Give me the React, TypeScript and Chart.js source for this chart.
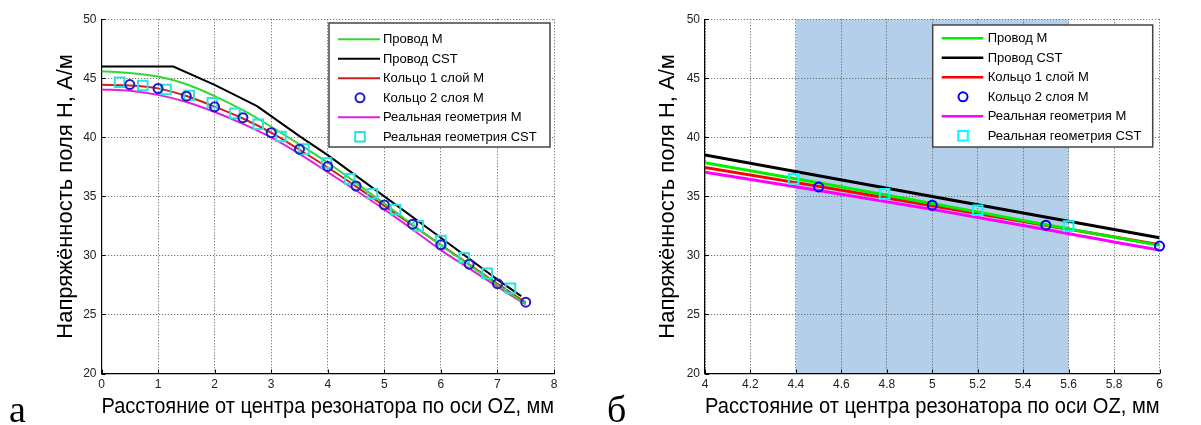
import React, { useEffect, useRef } from 'react';
import { Chart, registerables } from 'chart.js';

Chart.register(...registerables);

// ---------- data ----------
const seriesLabels = [
  'Провод M',
  'Провод CST',
  'Кольцо 1 слой M',
  'Кольцо 2 слоя M',
  'Реальная геометрия M',
  'Реальная геометрия CST',
];

const modelX = [0, 0.5, 1, 1.5, 2, 2.5, 3, 3.5, 4, 4.5, 5, 5.5, 6, 6.5, 7, 7.5];
const wireM = [45.6, 45.45, 45.15, 44.5, 43.5, 42.3, 40.9, 39.4, 37.85, 36.15, 34.4, 32.6, 30.85, 29.2, 27.5, 25.9];
const ring1M = [44.45, 44.4, 44.15, 43.5, 42.6, 41.6, 40.4, 38.95, 37.45, 35.85, 34.2, 32.55, 30.9, 29.25, 27.6, 26.0];
const realM = [44.05, 43.95, 43.6, 43.0, 42.15, 41.15, 40.0, 38.6, 37.05, 35.5, 33.9, 32.2, 30.45, 28.9, 27.35, 25.85];

const wireCstX = [0, 1.27, 2.0, 2.75, 3.5, 4.0, 5.0, 6.0, 7.0, 7.42];
const wireCstY = [46.0, 46.0, 44.45, 42.65, 40.1, 38.5, 35.0, 31.5, 27.95, 26.55];

// panel а markers
const ring2X = [0.5, 1, 1.5, 2, 2.5, 3, 3.5, 4, 4.5, 5, 5.5, 6, 6.5, 7, 7.5];
const ring2Y = [44.47, 44.14, 43.49, 42.59, 41.67, 40.4, 39.0, 37.54, 35.88, 34.28, 32.65, 30.9, 29.26, 27.61, 26.04];
const realCstX = [0.32, 0.73, 1.14, 1.55, 1.96, 2.36, 2.77, 3.17, 3.58, 3.98, 4.39, 4.79, 5.2, 5.6, 6.0, 6.41, 6.82, 7.23];
const realCstY = [44.67, 44.39, 44.05, 43.55, 42.93, 42.03, 41.11, 40.07, 39.0, 37.83, 36.48, 35.23, 33.88, 32.5, 31.25, 29.8, 28.48, 27.21];

// panel б markers
const ring2XZoom = [4.5, 5, 5.5, 6];
const ring2YZoom = [35.8, 34.25, 32.56, 30.79];
const realCstXZoom = [4.39, 4.79, 5.2, 5.6];
const realCstYZoom = [36.48, 35.21, 33.83, 32.48];

const yRange = [20, 50];
const yStep = 5;
const leftXRange = [0, 8];
const leftXStep = 1;
const rightXRange = [4, 6];
const rightXStep = 0.2;
const bandRange = [4.4, 5.6];

const yTitle = 'Напряжённость поля Н, А/м';
const xTitle = 'Расстояние от центра резонатора по оси OZ, мм';
const panelLetters = ['а', 'б'];

// ---------- helpers ----------
const zip = (xs: number[], ys: number[]) => xs.map((x, i) => ({ x, y: ys[i] }));

type Palette = { green: string; black: string; red: string; blue: string; magenta: string; cyan: string };

function buildDatasets(p: Palette, lw: number, ring2: any[], realCst: any[]) {
  const line = (label: string, data: any[], color: string, smooth: boolean) => ({
    label,
    data,
    showLine: true,
    borderColor: color,
    backgroundColor: color,
    borderWidth: lw,
    pointRadius: 0,
    cubicInterpolationMode: smooth ? 'monotone' : 'default',
    tension: 0,
    order: 2,
    clip: 0,
  });
  const marks = (label: string, data: any[], color: string, style: string, r: number) => ({
    label,
    data,
    showLine: false,
    borderColor: color,
    backgroundColor: 'rgba(0,0,0,0)',
    pointBorderWidth: 2,
    pointRadius: r,
    pointStyle: style,
    order: 1,
    clip: 8,
  });
  return [
    line(seriesLabels[0], zip(modelX, wireM), p.green, true),
    line(seriesLabels[1], zip(wireCstX, wireCstY), p.black, false),
    line(seriesLabels[2], zip(modelX, ring1M), p.red, true),
    marks(seriesLabels[3], ring2, p.blue, 'circle', 4.5),
    line(seriesLabels[4], zip(modelX, realM), p.magenta, true),
    marks(seriesLabels[5], realCst, p.cyan, 'rect', 6.8),
  ];
}

const bandPlugin = {
  id: 'band',
  beforeDraw(chart: any, _a: any, opts: any) {
    if (!opts || !opts.range) return;
    const { ctx, chartArea, scales } = chart;
    const x0 = scales.x.getPixelForValue(opts.range[0]);
    const x1 = scales.x.getPixelForValue(opts.range[1]);
    ctx.save();
    ctx.fillStyle = opts.color;
    ctx.fillRect(x0, chartArea.top, x1 - x0, chartArea.bottom - chartArea.top);
    ctx.restore();
  },
};

const innerTicksPlugin = {
  id: 'innerTicks',
  afterDatasetsDraw(chart: any) {
    const { ctx, chartArea, scales } = chart;
    ctx.save();
    ctx.strokeStyle = '#000';
    ctx.lineWidth = 1;
    ctx.beginPath();
    scales.x.ticks.forEach((t: any) => {
      const px = Math.round(scales.x.getPixelForValue(t.value)) + 0.5;
      ctx.moveTo(px, chartArea.bottom);
      ctx.lineTo(px, chartArea.bottom - 4);
    });
    scales.y.ticks.forEach((t: any) => {
      const py = Math.round(scales.y.getPixelForValue(t.value)) + 0.5;
      ctx.moveTo(chartArea.left, py);
      ctx.lineTo(chartArea.left + 4, py);
    });
    ctx.stroke();
    ctx.restore();
  },
};

const boxLegendPlugin = {
  id: 'boxLegend',
  afterDraw(chart: any, _a: any, o: any) {
    const { ctx } = chart;
    ctx.save();
    ctx.fillStyle = '#fff';
    ctx.fillRect(o.left, o.top, o.right - o.left, o.bottom - o.top);
    ctx.strokeStyle = '#444';
    ctx.lineWidth = 1.5;
    ctx.strokeRect(o.left, o.top, o.right - o.left, o.bottom - o.top);
    ctx.font = '13px "Liberation Sans", Arial, sans-serif';
    ctx.textBaseline = 'middle';
    ctx.textAlign = 'left';
    chart.data.datasets.forEach((ds: any, i: number) => {
      const y = o.firstRow + i * o.rowStep;
      ctx.strokeStyle = ds.borderColor;
      if (ds.showLine) {
        ctx.lineWidth = o.lineWidth;
        ctx.beginPath();
        ctx.moveTo(o.lineX0, y);
        ctx.lineTo(o.lineX1, y);
        ctx.stroke();
      } else {
        ctx.lineWidth = 2;
        ctx.beginPath();
        if (ds.pointStyle === 'circle') {
          ctx.arc(o.markX, y, ds.pointRadius, 0, Math.PI * 2);
        } else {
          const s = ds.pointRadius * Math.SQRT1_2;
          ctx.rect(o.markX - s, y - s, 2 * s, 2 * s);
        }
        ctx.stroke();
      }
      ctx.fillStyle = '#000';
      ctx.fillText(ds.label, o.textX, y + 0.5);
    });
    ctx.restore();
  },
};

function buildConfig(opts: {
  xRange: number[];
  xStep: number;
  palette: Palette;
  lw: number;
  padLeft: number;
  padRight: number;
  yAxisWidth: number;
  ring2: any[];
  realCst: any[];
  legend: any;
  band?: any;
}) {
  const tickFont = { family: '"Liberation Sans", Arial, sans-serif', size: 12 };
  const titleFont = { family: '"Liberation Sans", Arial, sans-serif', size: 22 };
  return {
    type: 'scatter' as const,
    data: { datasets: buildDatasets(opts.palette, opts.lw, opts.ring2, opts.realCst) as any },
    plugins: [bandPlugin, innerTicksPlugin, boxLegendPlugin],
    options: {
      responsive: false,
      animation: false as const,
      events: [],
      layout: { padding: { left: opts.padLeft, right: opts.padRight, top: 19.3, bottom: 0 } },
      plugins: {
        legend: { display: false },
        tooltip: { enabled: false },
        band: opts.band || {},
        boxLegend: opts.legend,
      },
      scales: {
        x: {
          type: 'linear' as const,
          min: opts.xRange[0],
          max: opts.xRange[1],
          afterFit: (s: any) => {
            s.height = 51.5;
          },
          ticks: {
            stepSize: opts.xStep,
            color: '#222',
            font: tickFont,
            padding: 4,
            maxRotation: 0,
            autoSkip: false,
            callback: (v: any) => String(Number(Number(v).toFixed(2))),
          },
          grid: { color: '#555', lineWidth: 1, drawTicks: false },
          border: { color: '#000', width: 1.2, dash: [1, 2] },
          title: { display: true, text: xTitle, color: '#000', font: titleFont, padding: { top: 0, bottom: 4.5 } },
        },
        y: {
          type: 'linear' as const,
          min: yRange[0],
          max: yRange[1],
          afterFit: (s: any) => {
            s.width = opts.yAxisWidth;
          },
          ticks: {
            stepSize: yStep,
            color: '#222',
            font: tickFont,
            padding: 5,
            autoSkip: false,
          },
          grid: { color: '#555', lineWidth: 1, drawTicks: false },
          border: { color: '#000', width: 1.2, dash: [1, 2] },
          title: { display: true, text: yTitle, color: '#000', font: titleFont, padding: { top: 4.8, bottom: 0 } },
        },
      },
    },
  };
}

const leftPalette: Palette = {
  green: '#33d633',
  black: '#000000',
  red: '#cc1f1f',
  blue: '#1c1cc8',
  magenta: '#e020e0',
  cyan: '#2ee0e0',
};
const rightPalette: Palette = {
  green: '#00f000',
  black: '#000000',
  red: '#ff0000',
  blue: '#0000ff',
  magenta: '#ff00ff',
  cyan: '#00ffff',
};

export default function App() {
  const leftRef = useRef<HTMLCanvasElement | null>(null);
  const rightRef = useRef<HTMLCanvasElement | null>(null);

  useEffect(() => {
    const left = new Chart(
      leftRef.current as HTMLCanvasElement,
      buildConfig({
        xRange: leftXRange,
        xStep: leftXStep,
        palette: leftPalette,
        lw: 2,
        padLeft: 48,
        padRight: 46,
        yAxisWidth: 53.5,
        ring2: zip(ring2X, ring2Y),
        realCst: zip(realCstX, realCstY),
        legend: {
          left: 329,
          right: 550,
          top: 23,
          bottom: 147,
          firstRow: 39.3,
          rowStep: 19.5,
          lineX0: 338,
          lineX1: 380,
          markX: 360,
          textX: 383,
          lineWidth: 2,
        },
      }) as any
    );
    const right = new Chart(
      rightRef.current as HTMLCanvasElement,
      buildConfig({
        xRange: rightXRange,
        xStep: rightXStep,
        palette: rightPalette,
        lw: 3,
        padLeft: 50,
        padRight: 41.5,
        yAxisWidth: 55,
        ring2: zip(ring2XZoom, ring2YZoom),
        realCst: zip(realCstXZoom, realCstYZoom),
        band: { range: bandRange, color: '#b4cfe9' },
        legend: {
          left: 332.7,
          right: 552.7,
          top: 25,
          bottom: 147,
          firstRow: 38.3,
          rowStep: 19.5,
          lineX0: 341.7,
          lineX1: 383.3,
          markX: 363,
          textX: 387.7,
          lineWidth: 2.5,
        },
      }) as any
    );
    return () => {
      left.destroy();
      right.destroy();
    };
  }, []);

  const letterStyle: React.CSSProperties = {
    position: 'absolute',
    top: 389.5,
    fontFamily: '"Liberation Serif", "Times New Roman", serif',
    fontSize: 38,
    lineHeight: 1,
    color: '#000',
  };

  return (
    <div style={{ position: 'fixed', left: 0, top: 0, width: 1201, height: 425, background: '#fff', overflow: 'hidden' }}>
      <canvas ref={leftRef} width={600} height={425} style={{ position: 'absolute', left: 0, top: 0 }} />
      <canvas ref={rightRef} width={601} height={425} style={{ position: 'absolute', left: 600, top: 0 }} />
      <div style={{ ...letterStyle, left: 9 }}>{panelLetters[0]}</div>
      <div style={{ ...letterStyle, left: 607 }}>{panelLetters[1]}</div>
    </div>
  );
}
